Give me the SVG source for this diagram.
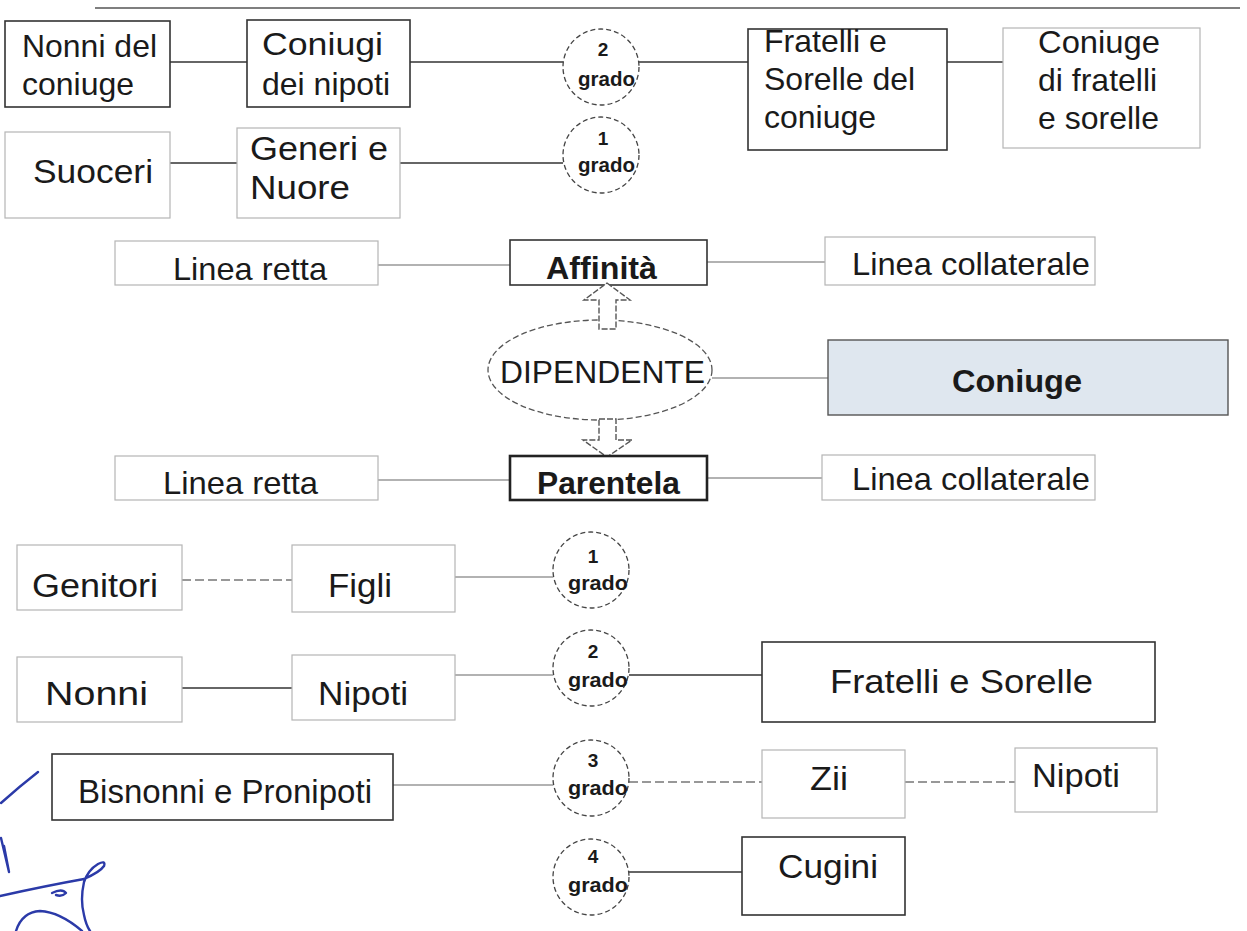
<svg xmlns="http://www.w3.org/2000/svg" width="1247" height="931" viewBox="0 0 1247 931">
<style>
.box{fill:#fff;stroke:#333;stroke-width:1.6}
.fb{fill:#fff;stroke:#b5b5b5;stroke-width:1.2}
.thick{fill:#fff;stroke:#222;stroke-width:2.6}
.conn{stroke:#333;stroke-width:1.6;fill:none}
.fc{stroke:#999;stroke-width:1.4;fill:none}
.dc{stroke:#777;stroke-width:1.4;fill:none;stroke-dasharray:9 4}
.circ{fill:#fff;stroke:#444;stroke-width:1.3;stroke-dasharray:5 3}
.arr{fill:#fff;stroke:#555;stroke-width:1.4;stroke-dasharray:6 2}
.t{font-family:"Liberation Sans",Arial,sans-serif;font-size:32px;fill:#1a1a1a}
.l{font-size:34px}
.b{font-weight:bold}
.n{font-family:"Liberation Sans",Arial,sans-serif;font-weight:bold;font-size:19px;fill:#1a1a1a;text-anchor:middle}
.gr{font-family:"Liberation Sans",Arial,sans-serif;font-weight:bold;font-size:21px;fill:#1a1a1a}
.sig{fill:none;stroke:#2b3aa8;stroke-width:2.4;stroke-linecap:round;stroke-linejoin:round}
</style>
<line x1="95" y1="8" x2="1240" y2="8" stroke="#555" stroke-width="1.6"/>
<g id="connectors">
<line class="conn" x1="170" y1="62" x2="247" y2="62"/>
<line class="conn" x1="410" y1="62" x2="563" y2="62"/>
<line class="conn" x1="639" y1="62" x2="748" y2="62"/>
<line class="conn" x1="947" y1="62" x2="1003" y2="62"/>
<line class="conn" x1="170" y1="163" x2="237" y2="163"/>
<line class="conn" x1="400" y1="163" x2="563" y2="163"/>
<line class="fc" x1="378" y1="265" x2="510" y2="265"/>
<line class="fc" x1="707" y1="262" x2="825" y2="262"/>
<line class="fc" x1="712" y1="378" x2="828" y2="378"/>
<line class="fc" x1="378" y1="480" x2="510" y2="480"/>
<line class="fc" x1="707" y1="478" x2="825" y2="478"/>
<line class="dc" x1="182" y1="580" x2="292" y2="580"/>
<line class="fc" x1="455" y1="577" x2="553" y2="577"/>
<line class="conn" x1="182" y1="688" x2="292" y2="688"/>
<line class="fc" x1="455" y1="675" x2="553" y2="675"/>
<line class="conn" x1="629" y1="675" x2="762" y2="675"/>
<line class="fc" x1="393" y1="785" x2="553" y2="785"/>
<line class="dc" x1="629" y1="782" x2="762" y2="782"/>
<line class="dc" x1="905" y1="782" x2="1015" y2="782"/>
<line class="conn" x1="629" y1="872" x2="742" y2="872"/>
</g>
<g id="n-nonni-coniuge"><rect class="box" x="5" y="21" width="165" height="86"/><text class="t" x="22" y="57" textLength="135" lengthAdjust="spacingAndGlyphs">Nonni del</text><text class="t" x="22" y="95">coniuge</text></g>
<g id="n-coniugi-nipoti"><rect class="box" x="247" y="20" width="163" height="87"/><text class="t" x="262" y="55" textLength="121" lengthAdjust="spacingAndGlyphs">Coniugi</text><text class="t" x="262" y="95">dei nipoti</text></g>
<g id="n-grado2-top"><circle class="circ" cx="601" cy="67" r="38"/><text class="n" x="603" y="56">2</text><text class="gr" x="578" y="86" textLength="57" lengthAdjust="spacingAndGlyphs">grado</text></g>
<g id="n-fratelli-coniuge"><rect class="box" x="748" y="29" width="199" height="121"/><text class="t" x="764" y="52">Fratelli e</text><text class="t" x="764" y="90">Sorelle del</text><text class="t" x="764" y="128">coniuge</text></g>
<g id="n-coniuge-fratelli"><rect class="fb" x="1003" y="28" width="197" height="120"/><text class="t" x="1038" y="53" textLength="122" lengthAdjust="spacingAndGlyphs">Coniuge</text><text class="t" x="1038" y="91">di fratelli</text><text class="t" x="1038" y="129">e sorelle</text></g>
<g id="n-suoceri"><rect class="fb" x="5" y="132" width="165" height="86"/><text class="t l" x="33" y="183" textLength="120" lengthAdjust="spacingAndGlyphs">Suoceri</text></g>
<g id="n-generi"><rect class="fb" x="237" y="128" width="163" height="90"/><text class="t l" x="250" y="160" textLength="138" lengthAdjust="spacingAndGlyphs">Generi e</text><text class="t l" x="250" y="199" textLength="100" lengthAdjust="spacingAndGlyphs">Nuore</text></g>
<g id="n-grado1-top"><circle class="circ" cx="601" cy="155" r="38"/><text class="n" x="603" y="145">1</text><text class="gr" x="578" y="172" textLength="57" lengthAdjust="spacingAndGlyphs">grado</text></g>
<g id="n-linea-retta-a"><rect class="fb" x="115" y="241" width="263" height="44"/><text class="t" x="173" y="280" textLength="154" lengthAdjust="spacingAndGlyphs">Linea retta</text></g>
<g id="n-affinita"><rect class="box" x="510" y="240" width="197" height="45"/><text class="t b" x="546" y="279" font-size="30" textLength="111" lengthAdjust="spacingAndGlyphs">Affinità</text></g>
<g id="n-linea-coll-a"><rect class="fb" x="825" y="237" width="270" height="48" stroke="#e2e2e2"/><text class="t" x="852" y="275" textLength="238" lengthAdjust="spacingAndGlyphs">Linea collaterale</text></g>
<g id="n-dipendente"><ellipse cx="600" cy="370" rx="112" ry="50" fill="#fff" stroke="#555" stroke-width="1.3" stroke-dasharray="6 3"/><text class="t" x="500" y="383" font-size="31" textLength="205" lengthAdjust="spacingAndGlyphs">DIPENDENTE</text></g>
<g id="arrows"><polygon class="arr" points="607,283 630,300 616,300 616,329 599,329 599,300 584,300"/><polygon class="arr" points="599,419 616,419 616,440 632,440 607,457 583,440 599,440"/></g>
<g id="n-coniuge"><rect x="828" y="340" width="400" height="75" fill="#dfe7ef" stroke="#555" stroke-width="1.4"/><text class="t b" x="952" y="392" font-size="33" textLength="130" lengthAdjust="spacingAndGlyphs">Coniuge</text></g>
<g id="n-linea-retta-p"><rect class="fb" x="115" y="456" width="263" height="44"/><text class="t" x="163" y="494" textLength="155" lengthAdjust="spacingAndGlyphs">Linea retta</text></g>
<g id="n-parentela"><rect class="thick" x="510" y="456" width="197" height="44"/><text class="t b" x="537" y="494" font-size="31" textLength="143" lengthAdjust="spacingAndGlyphs">Parentela</text></g>
<g id="n-linea-coll-p"><rect class="fb" x="822" y="455" width="273" height="45" stroke="#e2e2e2"/><text class="t" x="852" y="490" textLength="238" lengthAdjust="spacingAndGlyphs">Linea collaterale</text></g>
<g id="n-genitori"><rect class="fb" x="17" y="545" width="165" height="65"/><text class="t l" x="32" y="597" textLength="126" lengthAdjust="spacingAndGlyphs">Genitori</text></g>
<g id="n-figli"><rect class="fb" x="292" y="545" width="163" height="67"/><text class="t l" x="328" y="597" textLength="64" lengthAdjust="spacingAndGlyphs">Figli</text></g>
<g id="n-grado1"><circle class="circ" cx="591" cy="570" r="38"/><text class="n" x="593" y="563">1</text><text class="gr" x="568" y="590" textLength="60" lengthAdjust="spacingAndGlyphs">grado</text></g>
<g id="n-nonni"><rect class="fb" x="17" y="657" width="165" height="65"/><text class="t l" x="45" y="705" textLength="103" lengthAdjust="spacingAndGlyphs">Nonni</text></g>
<g id="n-nipoti"><rect class="fb" x="292" y="655" width="163" height="65"/><text class="t l" x="318" y="705" textLength="90" lengthAdjust="spacingAndGlyphs">Nipoti</text></g>
<g id="n-grado2"><circle class="circ" cx="591" cy="668" r="38"/><text class="n" x="593" y="658">2</text><text class="gr" x="568" y="687" textLength="60" lengthAdjust="spacingAndGlyphs">grado</text></g>
<g id="n-fratelli"><rect class="box" x="762" y="642" width="393" height="80"/><text class="t l" x="830" y="693" textLength="263" lengthAdjust="spacingAndGlyphs">Fratelli e Sorelle</text></g>
<g id="n-bisnonni"><rect class="box" x="52" y="754" width="341" height="66"/><text class="t l" x="78" y="803" textLength="294" lengthAdjust="spacingAndGlyphs">Bisnonni e Pronipoti</text></g>
<g id="n-grado3"><circle class="circ" cx="591" cy="778" r="38"/><text class="n" x="593" y="767">3</text><text class="gr" x="568" y="795" textLength="60" lengthAdjust="spacingAndGlyphs">grado</text></g>
<g id="n-zii"><rect class="fb" x="762" y="750" width="143" height="68"/><text class="t l" x="810" y="790" textLength="38" lengthAdjust="spacingAndGlyphs">Zii</text></g>
<g id="n-nipoti2"><rect class="fb" x="1015" y="748" width="142" height="64"/><text class="t l" x="1032" y="787" textLength="88" lengthAdjust="spacingAndGlyphs">Nipoti</text></g>
<g id="n-grado4"><circle class="circ" cx="591" cy="877" r="38"/><text class="n" x="593" y="863">4</text><text class="gr" x="568" y="892" textLength="60" lengthAdjust="spacingAndGlyphs">grado</text></g>
<g id="n-cugini"><rect class="box" x="742" y="837" width="163" height="78"/><text class="t l" x="778" y="878" textLength="100" lengthAdjust="spacingAndGlyphs">Cugini</text></g>
<g id="signature">
<path class="sig" d="M38 772 Q20 786 1 803"/>
<path class="sig" d="M1 838 L9 872 L4 846"/>
<path class="sig" d="M0 896 Q45 886 84 879 Q100 872 104 866 Q106 860 98 864 Q88 870 84 882 Q80 900 84 915 Q86 925 90 931"/>
<path class="sig" d="M52 893 Q62 888 66 893 Q62 897 56 895"/>
<path class="sig" d="M16 931 Q22 912 40 911 Q60 912 82 931"/>
</g>
</svg>
